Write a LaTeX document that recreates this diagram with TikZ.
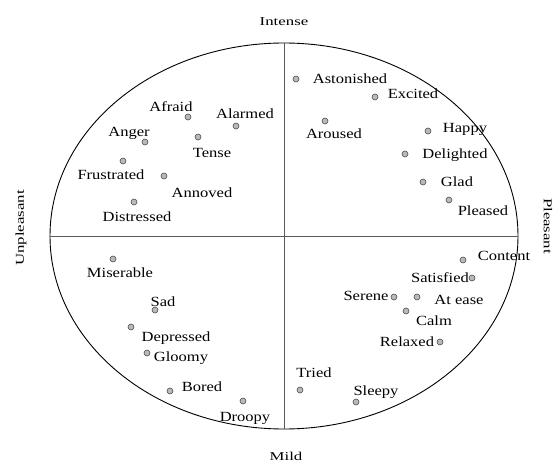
\documentclass[tikz,border=0pt]{standalone}
\usepackage{fontspec}
\setmainfont{Liberation Serif}[FakeStretch=1.18]
\newfontfamily\axisfont{Liberation Serif}[FakeStretch=1.4]
\usetikzlibrary{shapes.geometric}

\begin{document}
\begin{tikzpicture}[x=1pt,y=-1pt,every node/.style={font=\fontsize{14}{16}\selectfont},
        dt/.style={circle,draw=black!70,fill=gray!55,minimum size=6pt,inner sep=0,line width=0.6pt},
        lb/.style={anchor=base,inner sep=0},
        ax/.style={font=\axisfont\fontsize{12}{14}\selectfont,inner sep=0}]
        \useasboundingbox (0,0) rectangle (555,463);
        \node[ellipse,draw,line width=0.9pt,minimum width=468pt,minimum height=386pt,inner sep=0] (ring) at (284,236) {};
        \draw[black!65,line width=0.5pt] (ring.north) -- (ring.south);
        \draw[black!65,line width=0.5pt] (ring.west) -- (ring.east);
        \node[ax] (int) at (284,22) {Intense};
        \node[ax] (mld) at (286,456) {Mild};
        \node[ax,rotate=90] (unp) at (21,228) {Unpleasant};
        \node[ax,rotate=-90] (pls) at (548,226) {Pleasant};
        \foreach \n/\dx/\dy/\t/\lx/\ly in {
            afr/188/117/Afraid/171/107, alm/236/126/Alarmed/245/114,
            ang/145/142/Anger/129/132, ten/198/137/Tense/212/153,
            fru/123/161/Frustrated/111/175, ann/164/176/Annoved/202/193,
            dis/134/202/Distressed/137/217, ast/296/79/Astonished/350/79,
            exc/375/97/Excited/413/94, aro/325/121/Aroused/334/134,
            hap/428/131/Happy/465/128, del/405/154/Delighted/455/154,
            gla/423/182/Glad/457/182, ple/449/200/Pleased/483/211,
            mis/113/259/Miserable/120/273, sad/155/310/Sad/163/302,
            dep/131/327/Depressed/176/337, glo/147/353/Gloomy/181/357,
            bor/170/391/Bored/202/387, dro/243/401/Droopy/245/417,
            con/463/260/Content/504/256, sat/472/278/Satisfied/440/278,
            ser/394/297/Serene/366/296, ate/417/297/At ease/459/300,
            clm/406/311/Calm/434/321, rel/440/342/Relaxed/407/342,
            tri/300/390/Tried/314/373, slp/356/402/Sleepy/376/391}{
            \node[dt] (d\n) at (\dx,\dy) {};
            \node[lb] (l\n) at (\lx,\ly+4.5) {\t};
        }
    \end{tikzpicture}
\end{document}
